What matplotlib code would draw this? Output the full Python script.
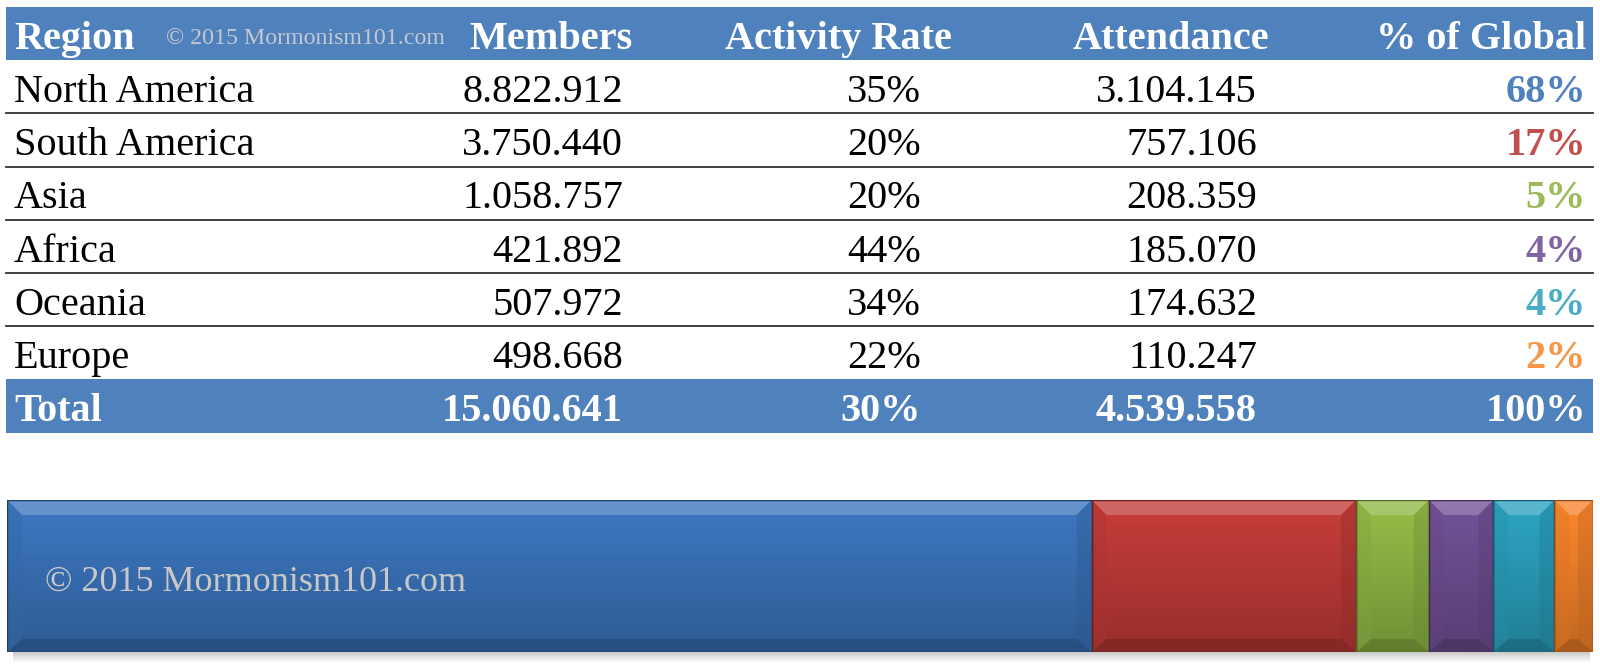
import numpy as np
import matplotlib
matplotlib.use("Agg")
import matplotlib.pyplot as plt
from matplotlib.patches import Polygon, Rectangle
from matplotlib.colors import to_rgb

plt.rcParams["font.family"] = ["Liberation Serif", "DejaVu Serif"]

# ---------------------------------------------------------------------------
# data
# ---------------------------------------------------------------------------
REGIONS = ["North America", "South America", "Asia", "Africa", "Oceania", "Europe"]
MEMBERS = [8822912, 3750440, 1058757, 421892, 507972, 498668]
ACTIVITY = [35, 20, 20, 44, 34, 22]
ATTENDANCE = [3104145, 757106, 208359, 185070, 174632, 110247]
TOTAL_MEMBERS = 15060641
TOTAL_ACTIVITY = 30
TOTAL_ATTENDANCE = 4539558
HEADERS = ["Region", "Members", "Activity Rate", "Attendance", "% of Global"]
WATERMARK = "\u00a9 2015 Mormonism101.com"

PCT_COLORS = ["#4F81BD", "#C0504D", "#9BBB59", "#8064A2", "#4BACC6", "#F79646"]
BAR_COLORS = ["#3A72B8", "#BD3A37", "#8EB444", "#6D4E91", "#2A9DBA", "#F2812A"]
HEADER_BLUE = "#4F81BD"


def dots(v):
    return f"{v:,}".replace(",", ".")


# ---------------------------------------------------------------------------
# layout (pixels)
# ---------------------------------------------------------------------------
W, H = 1600, 668
fig = plt.figure(figsize=(W / 100, H / 100), dpi=100)
ax = fig.add_axes([0, 0, 1, 1])
ax.set_xlim(0, W)
ax.set_ylim(H, 0)
ax.axis("off")

TABLE_L, TABLE_R = 6, 1593
TOP, ROW_H = 7, 53.2
FS = 29
REGION_X = 14
HEAD_RIGHT = [633, 952, 1269, 1586]
VAL_RIGHT = [623, 921, 1257, 1586]


def band_top(i):
    return TOP + i * ROW_H


def baseline(i):
    return band_top(i + 1) - 11.5


# header + total bands
for i in (0, 7):
    ax.add_patch(Rectangle((TABLE_L, band_top(i)), TABLE_R - TABLE_L, ROW_H,
                           facecolor=HEADER_BLUE, edgecolor="none"))

# row separator lines
for i in range(2, 7):
    ax.plot([TABLE_L, TABLE_R], [band_top(i), band_top(i)],
            color="#303030", linewidth=1.3)

# header text
ax.text(REGION_X, baseline(0), HEADERS[0], color="white", fontsize=FS,
        fontweight="bold", va="baseline", ha="left")
ax.text(166, baseline(0) - 5, WATERMARK, color="#c4c8d0", fontsize=17.2,
        va="baseline", ha="left")
for h, xr in zip(HEADERS[1:], HEAD_RIGHT):
    ax.text(xr, baseline(0), h, color="white", fontsize=FS,
            fontweight="bold", va="baseline", ha="right")

# body rows
for r, region in enumerate(REGIONS):
    i = r + 1
    pct = round(ATTENDANCE[r] / TOTAL_ATTENDANCE * 100)
    ax.text(REGION_X, baseline(i), region, fontsize=FS, va="baseline", ha="left")
    cells = [dots(MEMBERS[r]), f"{ACTIVITY[r]}%", dots(ATTENDANCE[r])]
    for c, xr in zip(cells, VAL_RIGHT[:3]):
        ax.text(xr, baseline(i), c, fontsize=FS, va="baseline", ha="right")
    ax.text(VAL_RIGHT[3], baseline(i), f"{pct}%", fontsize=FS, fontweight="bold",
            color=PCT_COLORS[r], va="baseline", ha="right")

# total row
ax.text(REGION_X, baseline(7), "Total", color="white", fontsize=FS,
        fontweight="bold", va="baseline", ha="left")
totals = [dots(TOTAL_MEMBERS), f"{TOTAL_ACTIVITY}%", dots(TOTAL_ATTENDANCE), "100%"]
for c, xr in zip(totals, VAL_RIGHT):
    ax.text(xr, baseline(7), c, color="white", fontsize=FS,
            fontweight="bold", va="baseline", ha="right")

# ---------------------------------------------------------------------------
# stacked attendance bar
# ---------------------------------------------------------------------------
BAR_L, BAR_R, BAR_T, BAR_B = 7, 1593, 500, 652
bx = fig.add_axes([BAR_L / W, (H - BAR_B) / H, (BAR_R - BAR_L) / W, (BAR_B - BAR_T) / H])
total = sum(ATTENDANCE)
bx.set_xlim(0, total)
bx.set_ylim(0, 1)
bx.axis("off")

px = total / (BAR_R - BAR_L)          # data units per pixel
bev_x = 15 * px
bev_top = 15 / (BAR_B - BAR_T)
bev_bot = 13 / (BAR_B - BAR_T)

# soft shadow under the bar
shadow = np.linspace(0.35, 0.0, 20).reshape(-1, 1)
rgba = np.zeros((20, 1, 4))
rgba[..., :3] = 0.4
rgba[..., 3] = shadow
bx.imshow(rgba, extent=(total * 0.004, total * 0.998, -0.07, 0.0), aspect="auto",
          origin="upper", clip_on=False, zorder=0)

lefts = np.concatenate([[0], np.cumsum(ATTENDANCE)[:-1]])
grad = np.linspace(1.0, 0.0, 64).reshape(-1, 1)
for left, width, col in zip(lefts, ATTENDANCE, BAR_COLORS):
    base = np.array(to_rgb(col))
    bars = bx.barh(0.5, width, left=left, height=1.0, color=col,
                   edgecolor="none", zorder=1)
    # vertical gradient, lighter at top
    top_c = np.clip(base * 1.06, 0, 1)
    bot_c = base * 0.80
    img = grad[..., None] * top_c + (1 - grad[..., None]) * bot_c
    im = bx.imshow(img, extent=(left, left + width, 0, 1), aspect="auto",
                   origin="upper", zorder=2)
    im.set_clip_path(bars[0])
    right = left + width
    light = np.clip(base + (1 - base) * 0.4, 0, 1)
    dark = base * 0.6
    # bevel faces
    bx.add_patch(Polygon([(left, 1), (right, 1), (right - bev_x, 1 - bev_top),
                          (left + bev_x, 1 - bev_top)],
                         facecolor=light, edgecolor="none", alpha=0.55, zorder=3))
    bx.add_patch(Polygon([(left, 0), (right, 0), (right - bev_x, bev_bot),
                          (left + bev_x, bev_bot)],
                         facecolor=dark, edgecolor="none", alpha=0.5, zorder=3))
    bx.add_patch(Polygon([(left, 0), (left, 1), (left + bev_x, 1 - bev_top),
                          (left + bev_x, bev_bot)],
                         facecolor=base * 0.9, edgecolor="none", alpha=0.35, zorder=3))
    bx.add_patch(Polygon([(right, 0), (right, 1), (right - bev_x, 1 - bev_top),
                          (right - bev_x, bev_bot)],
                         facecolor=base * 0.75, edgecolor="none", alpha=0.35, zorder=3))
    bx.add_patch(Rectangle((left, 0), width, 1, facecolor="none",
                           edgecolor=base * 0.55, linewidth=1.0, zorder=4))

fig.text(45 / W, (H - 591) / H, WATERMARK, color="#c8c8c8", fontsize=26,
         va="baseline", ha="left", zorder=10)

fig.savefig("out.png", dpi=100)
plt.close(fig)
print("Saved: out.png")
